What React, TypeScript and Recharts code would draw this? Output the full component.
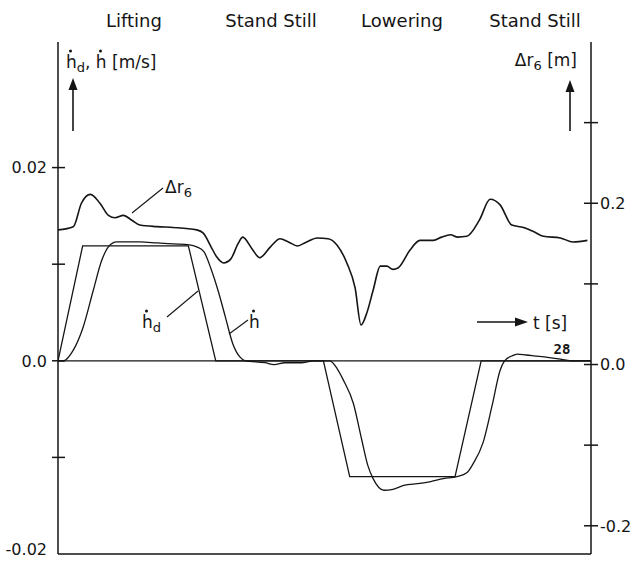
import React from 'react';
import { LineChart, Line, XAxis, YAxis, ReferenceLine } from 'recharts';

// ---- data (time in s) ----
const phaseLabels = ['Lifting', 'Stand Still', 'Lowering', 'Stand Still'];
const phaseBoundaries = [8.9, 14.7, 23.4];

const hdTime = [0, 1.37, 7.24, 8.76, 14.74, 16.2, 22.05, 23.5, 29.6];
const hdValue = [0, 0.0119, 0.0119, 0, 0, -0.012, -0.012, 0, 0];

const hTime = [0, 0.3, 0.85, 1.4, 1.96, 2.43, 2.8, 3.26, 4.55, 5.5, 6.4, 7.3, 7.7, 8.1, 8.5, 8.9, 9.3, 9.7, 10.1, 10.4, 11.5, 12.0, 12.6, 13.5, 14.2, 15.1, 15.5, 15.85, 16.4, 16.87, 17.2, 17.5, 18.1, 18.6, 19.2, 20.1, 20.7, 21.4, 22.15, 22.7, 23.07, 23.6, 24.1, 24.55, 24.8, 25.2, 25.5, 26.0, 27.0, 27.8, 28.5, 29.6];
const hValue = [0, 0, 0.0011, 0.0035, 0.0073, 0.0104, 0.0118, 0.0123, 0.0123, 0.0122, 0.0121, 0.012, 0.0118, 0.0113, 0.0095, 0.0072, 0.0045, 0.0018, 0.0004, 0, -0.0002, -0.0004, -0.0002, -0.0002, 0, 0, -0.0008, -0.002, -0.0044, -0.0082, -0.0108, -0.0122, -0.0134, -0.0133, -0.0129, -0.0127, -0.0125, -0.0122, -0.012, -0.0116, -0.0106, -0.0085, -0.0047, -0.001, 0, 0.0005, 0.0007, 0.0006, 0.0004, 0.0002, 0, 0];

const drTime = [0, 0.85, 1.3, 1.8, 2.33, 2.8, 3.17, 3.63, 4.1, 4.55, 5.5, 6.4, 7.7, 8.07, 8.5, 8.8, 9.2, 9.6, 10.0, 10.26, 10.76, 11.2, 11.8, 12.33, 12.8, 13.3, 13.8, 14.4, 15.0, 15.5, 16.04, 16.5, 16.83, 17.15, 17.5, 17.9, 18.26, 18.6, 18.9, 19.55, 20.1, 20.85, 21.3, 21.8, 22.2, 22.7, 23.4, 24.0, 24.55, 25.2, 25.85, 26.4, 26.96, 27.9, 28.6, 29.4];
const drValue = [0.167, 0.171, 0.2, 0.211, 0.2, 0.185, 0.182, 0.185, 0.179, 0.173, 0.171, 0.17, 0.167, 0.163, 0.146, 0.134, 0.126, 0.131, 0.15, 0.158, 0.144, 0.1325, 0.146, 0.156, 0.152, 0.147, 0.152, 0.157, 0.156, 0.148, 0.126, 0.095, 0.049, 0.064, 0.092, 0.122, 0.122, 0.118, 0.12, 0.142, 0.154, 0.154, 0.158, 0.161, 0.158, 0.159, 0.179, 0.205, 0.198, 0.173, 0.17, 0.165, 0.159, 0.157, 0.152, 0.154];

const leftTicks = [-0.02, -0.01, 0, 0.01, 0.02];
const leftTickLabels = ['-0.02', '', '0.0', '', '0.02'];
const rightTicks = [-0.2, -0.1, 0, 0.1, 0.2, 0.3];
const rightTickLabels = ['-0.2', '', '0.0', '', '0.2', ''];

const hdData = hdTime.map((t, i) => ({ t, v: hdValue[i] }));
const hData = hTime.map((t, i) => ({ t, v: hValue[i] }));
const drData = drTime.map((t, i) => ({ t, v: drValue[i] }));

const INK = '#151515';
const FONT = '"DejaVu Sans", "Noto Sans", sans-serif';

const LeftTick = (props: any) => {
  const { x, y, payload } = props;
  const idx = leftTicks.indexOf(payload.value);
  const label = idx >= 0 ? leftTickLabels[idx] : '';
  const isBottom = payload.value < -0.015;
  return (
    <g>
      {!isBottom && (
        <line x1={x - 6} x2={x + 7} y1={y} y2={y} stroke={INK} strokeWidth={1.5} />
      )}
      {label && (
        <text x={x - 11} y={isBottom ? y - 5 : y} dy="0.36em" textAnchor="end" fontFamily={FONT} fontSize={16} fill={INK}>
          {label}
        </text>
      )}
    </g>
  );
};

const RightTick = (props: any) => {
  const { x, y, payload } = props;
  const idx = rightTicks.indexOf(payload.value);
  const label = idx >= 0 ? rightTickLabels[idx] : '';
  return (
    <g>
      <line x1={x - 7} x2={x + 7} y1={y} y2={y} stroke={INK} strokeWidth={1.5} />
      {label && (
        <text x={x + 9} y={y} dy="0.36em" textAnchor="start" fontFamily={FONT} fontSize={16} fill={INK}>
          {label}
        </text>
      )}
    </g>
  );
};

const phaseCenters = [134, 271, 402, 535];

const Dot = ({ x, y }: { x: number; y: number }) => <circle cx={x} cy={y} r={1.5} fill={INK} />;

export default function App() {
  return (
    <div style={{ position: 'absolute', left: 0, top: 0, width: 634, height: 561, background: '#fff' }}>
      <LineChart width={634} height={561} margin={{ top: 42, right: 0, bottom: 7, left: 0 }}>
        <XAxis
          xAxisId="top"
          orientation="top"
          type="number"
          dataKey="t"
          domain={[0, 29.6]}
          ticks={phaseBoundaries}
          tickFormatter={() => ''}
          height={0}
          tickSize={7}
          axisLine={{ stroke: INK, strokeWidth: 1.5 }}
          tickLine={{ stroke: INK, strokeWidth: 1.5 }}
          allowDataOverflow
        />
        <YAxis
          yAxisId="left"
          orientation="left"
          width={58}
          type="number"
          domain={[-0.02, 0.033]}
          ticks={leftTicks}
          tick={<LeftTick />}
          tickSize={0}
          tickMargin={0}
          tickLine={false}
          axisLine={{ stroke: INK, strokeWidth: 1.5 }}
          allowDataOverflow
          interval={0}
        />
        <YAxis
          yAxisId="right"
          orientation="right"
          width={43}
          type="number"
          domain={[-0.235, 0.4]}
          ticks={rightTicks}
          tick={<RightTick />}
          tickSize={0}
          tickMargin={0}
          tickLine={false}
          axisLine={{ stroke: INK, strokeWidth: 1.5 }}
          allowDataOverflow
          interval={0}
        />
        <ReferenceLine yAxisId="left" xAxisId="top" y={0} stroke={INK} strokeWidth={1.3} />
        <ReferenceLine yAxisId="left" xAxisId="top" y={-0.02} stroke={INK} strokeWidth={1.5} />
        <Line
          data={hdData}
          xAxisId="top"
          yAxisId="left"
          dataKey="v"
          type="linear"
          stroke={INK}
          strokeWidth={1.3}
          dot={false}
          isAnimationActive={false}
        />
        <Line
          data={hData}
          xAxisId="top"
          yAxisId="left"
          dataKey="v"
          type="monotone"
          stroke={INK}
          strokeWidth={1.3}
          dot={false}
          isAnimationActive={false}
        />
        <Line
          data={drData}
          xAxisId="top"
          yAxisId="right"
          dataKey="v"
          type="monotone"
          stroke={INK}
          strokeWidth={1.6}
          dot={false}
          isAnimationActive={false}
        />
      </LineChart>
      <svg
        width={634}
        height={561}
        style={{ position: 'absolute', left: 0, top: 0, pointerEvents: 'none' }}
        fontFamily={FONT}
        fill={INK}
      >
        {phaseLabels.map((p, i) => (
          <text key={i} x={phaseCenters[i]} y={27} textAnchor="middle" fontSize={18}>
            {p}
          </text>
        ))}
        <text x={66} y={68} fontSize={17}>
          h<tspan fontSize={13} dy={4}>d</tspan>
          <tspan dy={-4}>, h [m/s]</tspan>
        </text>
        <Dot x={70.5} y={51} />
        <Dot x={100.5} y={51} />
        <text x={577} y={66} fontSize={17} textAnchor="end">
          Δr<tspan fontSize={13} dy={4}>6</tspan>
          <tspan dy={-4}> [m]</tspan>
        </text>
        <line x1={73} x2={73} y1={131} y2={88} stroke={INK} strokeWidth={1.6} />
        <polygon points="73,78 68.5,90 77.5,90" fill={INK} />
        <line x1={570} x2={570} y1={131} y2={90} stroke={INK} strokeWidth={1.6} />
        <polygon points="570,80 565.5,92 574.5,92" fill={INK} />
        <line x1={477} x2={517} y1={322} y2={322} stroke={INK} strokeWidth={1.6} />
        <polygon points="528,322 515,317.5 515,326.5" fill={INK} />
        <text x={533} y={329} fontSize={17}>t [s]</text>
        <text x={562} y={354} fontSize={14} textAnchor="middle" fontFamily='"DejaVu Sans Mono", monospace' fontWeight="bold">
          28
        </text>
        <line x1={132} y1={213} x2={163} y2={188} stroke={INK} strokeWidth={1.1} />
        <text x={165} y={193} fontSize={17}>
          Δr<tspan fontSize={13} dy={4}>6</tspan>
        </text>
        <line x1={167} y1={317} x2={198} y2={291} stroke={INK} strokeWidth={1.1} />
        <text x={142} y={328} fontSize={17}>
          h<tspan fontSize={13} dy={4}>d</tspan>
        </text>
        <Dot x={146.5} y={311} />
        <line x1={229} y1={334} x2={248} y2={320} stroke={INK} strokeWidth={1.1} />
        <text x={249} y={328} fontSize={17}>h</text>
        <Dot x={253.5} y={311} />
      </svg>
    </div>
  );
}
